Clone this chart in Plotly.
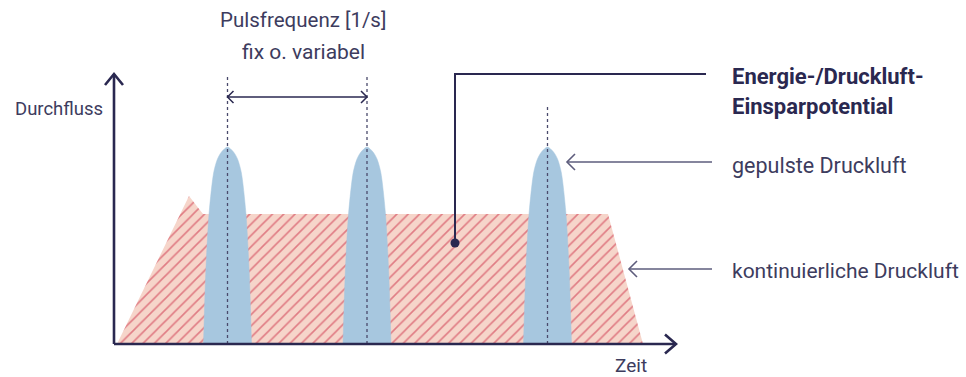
import plotly.graph_objects as go

# ---------------- data (time units / flow units) ----------------
cont_t = [3, 75, 89, 494, 529]          # continuous compressed air outline
cont_q = [0, 148, 130, 130, 0]
pulse_centers = [113.5, 253, 433.5]     # pulse positions on time axis
pulse_levels = [0, 72, 132, 172, 185, 192, 197]     # flow levels of pulse profile
pulse_halfw = [24, 21.7, 18.3, 13.7, 10, 6, 0]       # half width at each level
guide_top = [268, 268, 238]             # top of dotted guides per pulse
time_axis_len = 562
flow_axis_len = 270

labels_right = ["Energie-/Druckluft-", "Einsparpotential", "gepulste Druckluft", "kontinuierliche Druckluft"]
title_lines = ["Pulsfrequenz [1/s]", "fix o. variabel"]
y_label = "Durchfluss"
x_label = "Zeit"

# ---------------- styles ----------------
NAVY = "#2a2850"
TEXT = "#3d3c5e"
ARROW_LIGHT = "#5d5c7c"
BLUE = "#a7c7df"
PINK = "#f6d5ca"
RED = "#c9233d"
FONT = "Roboto, sans-serif"

fig = go.Figure()

# continuous air area (hatched)
fig.add_trace(go.Scatter(
    x=cont_t, y=cont_q, mode="lines", fill="toself",
    line=dict(width=0, color=PINK), fillcolor=PINK,
    fillpattern=dict(shape="/", bgcolor=PINK, fgcolor=RED, size=8, solidity=0.2),
    hoverinfo="skip", showlegend=False))

# pulses
for c in pulse_centers:
    xs = [c - w for w in pulse_halfw] + [c + w for w in reversed(pulse_halfw[:-1])]
    ys = pulse_levels + list(reversed(pulse_levels[:-1]))
    fig.add_trace(go.Scatter(x=xs, y=ys, mode="lines", fill="toself",
                             line=dict(width=0.5, color=BLUE, shape="spline", smoothing=0.8),
                             fillcolor=BLUE, hoverinfo="skip", showlegend=False))

# dotted guides
for c, top in zip(pulse_centers, guide_top):
    fig.add_trace(go.Scatter(x=[c, c], y=[0, top], mode="lines",
                             line=dict(color="#4a4a6c", width=1.3, dash="dot"),
                             hoverinfo="skip", showlegend=False))


def chevron(tip_x, tip_y, dx, dy, color, width):
    fig.add_trace(go.Scatter(x=[tip_x + dx[0], tip_x, tip_x + dx[1]],
                             y=[tip_y + dy[0], tip_y, tip_y + dy[1]], mode="lines",
                             line=dict(color=color, width=width),
                             hoverinfo="skip", showlegend=False))


def line(xs, ys, color, width):
    fig.add_trace(go.Scatter(x=xs, y=ys, mode="lines", line=dict(color=color, width=width),
                             hoverinfo="skip", showlegend=False))


# axes
line([0, 0], [0, flow_axis_len], NAVY, 2.6)
line([0, time_axis_len], [0, 0], NAVY, 2.6)
chevron(0, flow_axis_len, (-9, 9), (-11, -11), NAVY, 2.6)
chevron(time_axis_len, 0, (-11, -11), (9.5, -9.5), NAVY, 2.6)

# pulse frequency double arrow
fy = 247
line([pulse_centers[0], pulse_centers[1]], [fy, fy], NAVY, 1.5)
chevron(pulse_centers[0], fy, (6, 6), (6, -6), NAVY, 1.5)
chevron(pulse_centers[1], fy, (-6, -6), (6, -6), NAVY, 1.5)

# savings callout
line([341, 341, 592], [101, 270, 270], NAVY, 2)
fig.add_trace(go.Scatter(x=[341], y=[101], mode="markers",
                         marker=dict(size=9, color=NAVY), hoverinfo="skip", showlegend=False))

# label arrows
for tip, yv in [(453, 182), (515, 75)]:
    line([tip, 598], [yv, yv], ARROW_LIGHT, 1.6)
    chevron(tip, yv, (8, 8), (8, -8), ARROW_LIGHT, 1.6)


# texts
def text(x, y, s, anchor="left", bold=False, color=TEXT, size=21.5):
    fig.add_annotation(x=x, y=y, text=s, showarrow=False, xanchor=anchor, yanchor="middle",
                       font=dict(family=FONT, size=size, color=color,
                                 weight=700 if bold else 400))


text(-101, 235, y_label, size=18.5)
text(517, -21, x_label, anchor="center", size=19)
text(189, 324, title_lines[0], anchor="center", size=20.5)
text(189, 292, title_lines[1], anchor="center", size=21)
text(616, 268, labels_right[0], bold=True, color=NAVY, size=22)
text(616, 238, labels_right[1], bold=True, color=NAVY, size=22)
text(616, 179, labels_right[2])
text(616, 73, labels_right[3], size=21)

fig.update_layout(
    width=966, height=377, margin=dict(l=0, r=0, t=0, b=0),
    paper_bgcolor="white", plot_bgcolor="white",
    xaxis=dict(range=[-114, 852], visible=False, fixedrange=True),
    yaxis=dict(range=[-33, 344], visible=False, fixedrange=True),
    showlegend=False,
)

fig.write_html("out.html", config={"displayModeBar": False},
               post_script="document.body.style.margin='0';document.body.style.overflow='hidden';")
